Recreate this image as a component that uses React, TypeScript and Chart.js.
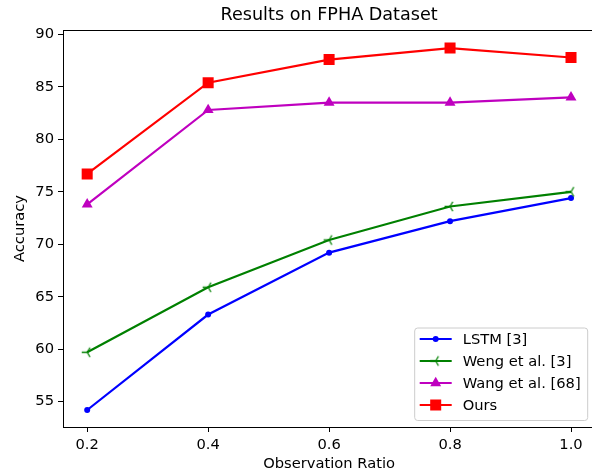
import React, { useEffect, useRef } from "react";
import { Chart, registerables } from "chart.js";

Chart.register(...registerables);

// ---- data ----
const ratios = [0.2, 0.4, 0.6, 0.8, 1.0];
const lstm = [54.2, 63.3, 69.2, 72.2, 74.4];
const weng = [59.7, 65.9, 70.4, 73.6, 75.0];
const wang = [73.8, 82.8, 83.5, 83.5, 84.0];
const ours = [76.7, 85.4, 87.6, 88.7, 87.8];
const seriesNames = ["LSTM [3]", "Weng et al. [3]", "Wang et al. [68]", "Ours"];
const seriesColors = ["#0000ff", "#008000", "#bf00bf", "#ff0000"];
const xTicks = [0.2, 0.4, 0.6, 0.8, 1.0];
const yTicks = [55, 60, 65, 70, 75, 80, 85, 90];
const chartTitle = "Results on FPHA Dataset";
const xTitle = "Observation Ratio";
const yTitle = "Accuracy";

const FONT = "DejaVu Sans";
const FS = 14.7;

function makeTriLeft(color: string, r: number): HTMLCanvasElement {
  const c = document.createElement("canvas");
  const s = Math.ceil(r * 2 + 4);
  c.width = s;
  c.height = s;
  const g = c.getContext("2d")!;
  const cx = s / 2, cy = s / 2;
  g.strokeStyle = color;
  g.lineWidth = 1.3;
  g.beginPath();
  g.moveTo(cx, cy); g.lineTo(cx - r, cy);
  g.moveTo(cx, cy); g.lineTo(cx + r * 0.5, cy - r * 0.866);
  g.moveTo(cx, cy); g.lineTo(cx + r * 0.5, cy + r * 0.866);
  g.stroke();
  return c;
}

function drawMarker(ctx: CanvasRenderingContext2D, kind: number, x: number, y: number, color: string, tri: HTMLCanvasElement) {
  ctx.fillStyle = color;
  ctx.strokeStyle = color;
  if (kind === 0) {
    ctx.beginPath(); ctx.arc(x, y, 3, 0, Math.PI * 2); ctx.fill();
  } else if (kind === 1) {
    ctx.drawImage(tri, x - tri.width / 2, y - tri.height / 2);
  } else if (kind === 2) {
    const r = 6.3;
    ctx.beginPath();
    ctx.moveTo(x, y - r);
    ctx.lineTo(x + r * 0.866, y + r * 0.5);
    ctx.lineTo(x - r * 0.866, y + r * 0.5);
    ctx.closePath(); ctx.fill();
  } else {
    const h = 5.5;
    ctx.fillRect(x - h, y - h, 2 * h, 2 * h);
  }
}

export default function App() {
  const ref = useRef<HTMLCanvasElement | null>(null);
  useEffect(() => {
    if (!ref.current) return;
    const tri = makeTriLeft(seriesColors[1], 5.5);
    const toPts = (arr: number[]) => arr.map((v, i) => ({ x: ratios[i], y: v }));
    const framePlugin = {
      id: "frameLegend",
      afterDatasetsDraw(chart: any) {
        const { ctx, chartArea: a } = chart;
        ctx.save();
        ctx.strokeStyle = "#000";
        ctx.lineWidth = 1;
        ctx.strokeRect(Math.round(a.left) + 0.5, Math.round(a.top) + 0.5, Math.round(a.right - a.left), Math.round(a.bottom - a.top));
        // legend
        const right = a.right - 7.5;
        const bottom = a.bottom - 6.5;
        const left = right - 173;
        const top = bottom - 92.5;
        const rr = 3;
        ctx.beginPath();
        ctx.moveTo(left + rr, top);
        ctx.lineTo(right - rr, top);
        ctx.quadraticCurveTo(right, top, right, top + rr);
        ctx.lineTo(right, bottom - rr);
        ctx.quadraticCurveTo(right, bottom, right - rr, bottom);
        ctx.lineTo(left + rr, bottom);
        ctx.quadraticCurveTo(left, bottom, left, bottom - rr);
        ctx.lineTo(left, top + rr);
        ctx.quadraticCurveTo(left, top, left + rr, top);
        ctx.closePath();
        ctx.fillStyle = "rgba(255,255,255,0.8)";
        ctx.fill();
        ctx.strokeStyle = "#cccccc";
        ctx.lineWidth = 1;
        ctx.stroke();
        ctx.font = `${FS}px "${FONT}"`;
        ctx.textBaseline = "middle";
        ctx.textAlign = "left";
        for (let i = 0; i < seriesNames.length; i++) {
          const y = top + 11 + i * 22;
          ctx.strokeStyle = seriesColors[i];
          ctx.lineWidth = 2.2;
          ctx.beginPath();
          ctx.moveTo(left + 5, y);
          ctx.lineTo(left + 37, y);
          ctx.stroke();
          drawMarker(ctx, i, left + 21, y, seriesColors[i], tri);
          ctx.fillStyle = "#000";
          ctx.fillText(seriesNames[i], left + 48, y + 1);
        }
        ctx.restore();
      },
    };
    const common = { borderWidth: 2.2, tension: 0, fill: false };
    const chart = new Chart(ref.current, {
      type: "line",
      data: {
        datasets: [
          { ...common, label: seriesNames[0], data: toPts(lstm), borderColor: seriesColors[0], backgroundColor: seriesColors[0], pointStyle: "circle", pointRadius: 3, pointBorderWidth: 0, order: 3 },
          { ...common, label: seriesNames[1], data: toPts(weng), borderColor: seriesColors[1], backgroundColor: seriesColors[1], pointStyle: tri, pointRadius: 5.5, order: 2 },
          { ...common, label: seriesNames[2], data: toPts(wang), borderColor: seriesColors[2], backgroundColor: seriesColors[2], pointStyle: "triangle", pointRadius: 6.3, pointBorderWidth: 0, order: 1 },
          { ...common, label: seriesNames[3], data: toPts(ours), borderColor: seriesColors[3], backgroundColor: seriesColors[3], pointStyle: "rect", pointRadius: 7.8, pointBorderWidth: 0, order: 0 },
        ] as any,
      },
      options: {
        animation: false,
        responsive: false,
        layout: { padding: { left: 0, right: 5, top: 0, bottom: 0 } },
        plugins: {
          legend: { display: false },
          tooltip: { enabled: false },
          title: {
            display: true,
            text: chartTitle,
            fullSize: false,
            color: "#000",
            font: { family: FONT, size: 17.6, weight: "normal", lineHeight: 1.2 },
            padding: { top: 4.4, bottom: 4.5 },
          },
        },
        scales: {
          x: {
            type: "linear",
            min: 0.16,
            max: 1.04,
            afterBuildTicks: (s: any) => { s.ticks = xTicks.map((v) => ({ value: v })); },
            afterFit: (s: any) => { s.height = 48; },
            border: { display: false },
            grid: { display: true, drawOnChartArea: false, drawTicks: true, tickLength: 5, color: "#000", lineWidth: 1 },
            ticks: {
              padding: 4,
              color: "#000",
              font: { family: FONT, size: FS },
              maxRotation: 0,
              autoSkip: false,
              callback: (v: any) => Number(v).toFixed(1),
            },
            title: { display: true, text: xTitle, color: "#000", font: { family: FONT, size: FS, lineHeight: 1.2 }, padding: { top: 0, bottom: 2.2 } },
          },
          y: {
            type: "linear",
            min: 52.58,
            max: 90.42,
            afterBuildTicks: (s: any) => { s.ticks = yTicks.map((v) => ({ value: v })); },
            afterFit: (s: any) => { s.width = 63; },
            border: { display: false },
            grid: { display: true, drawOnChartArea: false, drawTicks: true, tickLength: 5, color: "#000", lineWidth: 1 },
            ticks: {
              padding: 4,
              color: "#000",
              font: { family: FONT, size: FS },
              autoSkip: false,
              callback: (v: any) => String(v),
            },
            title: { display: true, text: yTitle, color: "#000", font: { family: FONT, size: FS, lineHeight: 1.2 }, padding: { top: 11.2, bottom: 0 } },
          },
        },
      } as any,
      plugins: [framePlugin],
    });
    return () => chart.destroy();
  }, []);
  return (
    <div style={{ position: "absolute", left: 0, top: 0, width: 592, height: 469, overflow: "hidden", background: "#fff" }}>
      <canvas ref={ref} width={603} height={475} style={{ width: 603, height: 475, display: "block" }} />
    </div>
  );
}
